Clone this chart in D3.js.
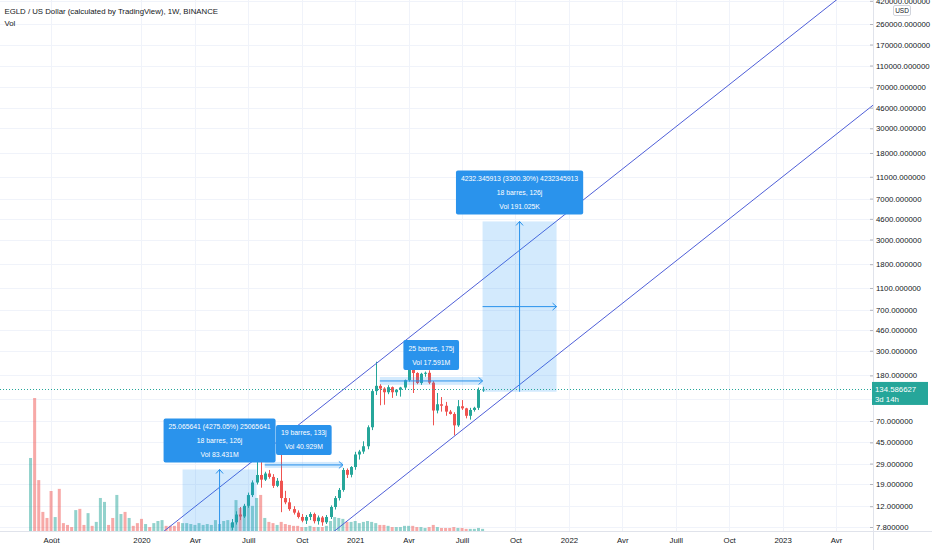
<!DOCTYPE html>
<html lang="fr">
<head>
<meta charset="UTF-8">
<title>EGLD / US Dollar, 1W</title>
<script src="https://d3js.org/d3.v7.min.js"></script>
<style>
  body { margin: 0; background: #fff; }
  svg { display: block; font-family: "Liberation Sans", Arial, sans-serif; }
</style>
</head>
<body>
<div id="chart"></div>
<script>
// weekly bars, the first one opens on this Monday
const firstBar = "2019-07-01";

// volume per weekly bar (millions)
const volumes = [
  24.1, 43.9, 16.8, 6.3, 4.3, 13.2, 4.6, 13.9, 2.6, 2.0,
  1.3, 6.9, 7.3, 2.0, 5.9, 1.7, 3.0, 10.9, 9.6, 2.0,
  4.3, 11.9, 5.6, 6.3, 4.3, 1.7, 2.6, 4.0, 2.3, 1.3,
  2.6, 3.3, 3.6, 1.7, 1.7, 1.7, 3.0, 2.6, 2.6, 2.3,
  2.0, 2.6, 2.0, 2.3, 2.0, 3.6, 2.3, 3.3, 3.6, 2.6,
  10.2, 7.6, 7.9, 11.9, 8.3, 10.9, 11.9, 4.3, 3.0, 2.6,
  2.0, 3.0, 2.3, 2.0, 1.7, 1.7, 1.3, 1.3, 1.7, 1.3,
  1.3, 1.3, 1.7, 3.3, 4.6, 4.3, 4.0, 3.0, 3.0, 3.3,
  2.6, 3.0, 3.3, 3.0, 2.6, 2.0, 2.0, 1.7, 1.3, 1.3,
  1.3, 1.7, 1.7, 1.7, 1.3, 1.3, 1.0, 1.3, 2.0, 1.3,
  1.0, 1.0, 1.0, 1.3, 1.0, 1.0, 0.7, 0.7, 0.7, 1.0,
  0.7
];
// 1 = week closed up, 0 = closed down
const volumeUp = [
  1, 0, 0, 0, 0, 0, 1, 0, 0, 0,
  0, 1, 0, 0, 1, 0, 1, 1, 1, 0,
  0, 1, 1, 0, 1, 0, 0, 0, 1, 0,
  1, 1, 1, 0, 0, 0, 0, 1, 1, 1,
  1, 1, 1, 1, 1, 1, 1, 1, 1, 1,
  1, 0, 1, 1, 1, 1, 0, 1, 0, 0,
  1, 0, 0, 0, 0, 0, 0, 1, 1, 0,
  1, 0, 1, 1, 1, 1, 1, 0, 1, 1,
  1, 1, 1, 1, 1, 0, 0, 1, 0, 1,
  1, 1, 1, 0, 0, 1, 1, 0, 0, 1,
  0, 0, 0, 0, 1, 0, 0, 1, 1, 1,
  1
];

// candles inside the visible price range start at this bar
const candleFrom = 49;
const candleOpen = [
  7.7, 8.6, 10.1, 9.7, 12.1, 15.1, 19.6, 22.9, 20.8, 23.6,
  22.0, 18.3, 20.3, 14.2, 13.0, 11.3, 10.5, 9.6, 8.9, 9.6,
  10.2, 8.8, 9.5, 8.6, 9.6, 11.8, 14.2, 16.8, 25.4, 23.0,
  27.0, 35.0, 37.2, 41.5, 61.5, 130, 145, 137, 127, 141,
  127, 134, 140, 163, 216, 189, 154, 186, 190, 155,
  87, 99, 96, 85, 81, 64, 95, 91, 78, 88,
  92, 133
];
const candleHigh = [
  9.2, 10.8, 11.8, 12.6, 15.9, 20.5, 31.2, 36.3, 24.5, 25.4,
  23.3, 21.5, 44.5, 16.5, 14.2, 12.0, 11.0, 10.2, 10.0, 10.6,
  10.5, 9.9, 9.8, 10.0, 12.2, 14.8, 17.5, 26.5, 26.2, 27.5,
  37.0, 38.5, 46, 64, 135, 239, 150, 141, 147, 143,
  135, 142, 165, 255, 235, 192, 190, 195, 200, 160,
  125, 115, 104, 88, 84, 108, 108, 92, 92, 94,
  140, 142
];
const candleLow = [
  7.3, 8.2, 9.0, 9.4, 11.6, 14.5, 18.8, 17.6, 20.2, 21.2,
  17.5, 17.8, 10.6, 12.5, 10.9, 10.1, 9.3, 8.6, 8.3, 9.0,
  8.4, 8.2, 8.0, 8.3, 9.2, 11.2, 13.5, 16.2, 21.5, 21.8,
  25.5, 31.5, 35.5, 39, 58, 120, 97, 98, 122, 113,
  118, 116, 135, 158, 125, 150, 148, 175, 150, 64,
  82, 85, 78, 80, 52, 62, 88, 74, 72, 85,
  88, 128
];
const candleClose = [
  8.6, 10.1, 9.7, 12.1, 15.1, 19.6, 22.9, 20.8, 23.6, 22.0,
  18.3, 20.3, 14.2, 13.0, 11.3, 10.5, 9.6, 8.9, 9.6, 10.2,
  8.8, 9.5, 8.6, 9.6, 11.8, 14.2, 16.8, 25.4, 23.0, 27.0,
  35.0, 37.2, 41.5, 61.5, 130, 145, 137, 127, 141, 127,
  134, 140, 163, 216, 189, 154, 186, 190, 155, 87,
  99, 96, 85, 81, 64, 95, 91, 78, 88, 92,
  133, 134.586627
];

// price scale labels (right side)
const priceTicks = [420000, 260000, 170000, 110000, 70000, 46000, 30000, 18000, 11000,
  7000, 4600, 3000, 1800, 1100, 700, 460, 300, 180, 110, 70, 45, 29, 19, 12, 7.8];

// time scale labels, placed on the first weekly bar of the month
const timeTickDates = ["2019-08-05", "2020-01-06", "2020-04-06", "2020-07-06", "2020-10-05",
  "2021-01-04", "2021-04-05", "2021-07-05", "2021-10-04", "2022-01-03", "2022-04-04",
  "2022-07-04", "2022-10-03", "2023-01-02", "2023-04-03"];
const timeTickLabels = ["Août", "2020", "Avr", "Juill", "Oct", "2021", "Avr", "Juill", "Oct",
  "2022", "Avr", "Juill", "Oct", "2023", "Avr"];

const lastPrice = 134.586627;
const lastCountdown = "3d 14h";

// parallel trend channel, two (date, price) anchors per line
const channelUpper = [["2020-02-14", 7.2], ["2022-02-25", 8950]];
const channelLower = [["2020-11-30", 7.2], ["2023-06-02", 47000]];

// measuring tools: first bar, bar count, price span, label lines
const rangeStart = [37, 57, 85, 110];
const rangeBars = [18, 19, 25, 18];
const rangeLow = [0.58632, 26.5, 148, 128.24];
const rangeHigh = [25.65196, 30.0, 174, 4360.59];
const rangeHasPrice = [true, false, false, true];
const rangeText = [
  ["25.065641 (4275.05%) 25065641", "18 barres, 126j", "Vol 83.431M"],
  ["19 barres, 133j", "Vol 40.929M"],
  ["25 barres, 175j", "Vol 17.591M"],
  ["4232.345913 (3300.30%) 4232345913", "18 barres, 126j", "Vol 191.025K"]
];

const W = 932, H = 550, plotW = 873, plotH = 531;
const upColor = "#26a69a", downColor = "#ef5350";
const toolBlue = "#2a93ec";

const parse = d3.utcParse("%Y-%m-%d");
const barDate = j => d3.utcDay.offset(parse(firstBar), 7 * j);

const svg = d3.select("#chart").append("svg")
    .attr("width", W)
    .attr("height", H);

svg.append("defs").append("clipPath").attr("id", "plot")
    .append("rect").attr("width", plotW).attr("height", plotH);

// scales
const x = d3.scaleUtc()
    .domain([parse("2019-05-10"), parse("2023-06-05")])
    .range([0, plotW]);
const y = d3.scaleLog()
    .domain([7.8, 260000])
    .range([527, 24]);
const vol = d3.scaleLinear()
    .domain([0, d3.max(volumes)])
    .range([plotH, 398]);

const yLast = y(lastPrice);
// the last price badge hides the scale labels it sits on
const labelTicks = priceTicks.filter(d => Math.abs(y(d) - yLast - 4) > 13);

// grid
const grid = svg.append("g").attr("stroke", "#f0f3fa").attr("stroke-width", 1);
grid.selectAll(".gh").data(priceTicks).join("line")
    .attr("x1", 0).attr("x2", plotW)
    .attr("y1", d => Math.round(y(d)) + 0.5)
    .attr("y2", d => Math.round(y(d)) + 0.5);
grid.selectAll(".gv").data(timeTickDates).join("line")
    .attr("y1", 0).attr("y2", plotH)
    .attr("x1", d => Math.round(x(parse(d))) + 0.5)
    .attr("x2", d => Math.round(x(parse(d))) + 0.5);

// volume
svg.append("g").attr("clip-path", "url(#plot)")
    .selectAll("rect").data(volumes).join("rect")
    .attr("x", (d, j) => x(barDate(j)) - 1.5)
    .attr("width", 3)
    .attr("y", d => vol(d))
    .attr("height", d => plotH - vol(d))
    .attr("fill", (d, j) => volumeUp[j] ? "rgba(38,166,154,0.5)" : "rgba(239,83,80,0.5)");

// candles
const candles = candleOpen.map((o, k) => ({
  date: barDate(candleFrom + k),
  open: o, high: candleHigh[k], low: candleLow[k], close: candleClose[k]
}));
const cg = svg.append("g").attr("clip-path", "url(#plot)");
cg.selectAll(".wick").data(candles).join("line")
    .attr("x1", d => Math.round(x(d.date)) + 0.5)
    .attr("x2", d => Math.round(x(d.date)) + 0.5)
    .attr("y1", d => y(d.high))
    .attr("y2", d => y(d.low))
    .attr("stroke", d => d.close >= d.open ? upColor : downColor);
cg.selectAll(".body").data(candles).join("rect")
    .attr("x", d => Math.round(x(d.date)) - 1)
    .attr("width", 3)
    .attr("y", d => y(Math.max(d.open, d.close)))
    .attr("height", d => Math.max(1, Math.abs(y(d.open) - y(d.close))))
    .attr("fill", d => d.close >= d.open ? upColor : downColor);

// trend channel
function extendLine(pts) {
  const [a, b] = pts.map(([d, p]) => [x(parse(d)), y(p)]);
  const k = (b[1] - a[1]) / (b[0] - a[0]);
  return [[-50, a[1] + k * (-50 - a[0])], [plotW + 50, a[1] + k * (plotW + 50 - a[0])]];
}
svg.append("g").attr("clip-path", "url(#plot)")
    .selectAll("path").data([channelUpper, channelLower]).join("path")
    .attr("d", d => d3.line()(extendLine(d)))
    .attr("fill", "none")
    .attr("stroke", "#4f5fd8")
    .attr("stroke-width", 1);

// measuring tools
const tools = svg.append("g");
rangeStart.forEach((s, i) => {
  const x0 = x(barDate(s)), x1 = x(barDate(s + rangeBars[i]));
  const yTop = y(rangeHigh[i]), yBot = y(rangeLow[i]);
  const xc = (x0 + x1) / 2, yc = (yTop + yBot) / 2;

  const shade = tools.append("g").attr("clip-path", "url(#plot)");
  shade.append("rect")
      .attr("x", x0).attr("y", yTop)
      .attr("width", x1 - x0).attr("height", yBot - yTop)
      .attr("fill", "rgba(33,150,243,0.2)");
  shade.append("line")
      .attr("x1", x0).attr("x2", x1).attr("y1", yc).attr("y2", yc)
      .attr("stroke", toolBlue);
  shade.append("path")
      .attr("d", `M${x1 - 4},${yc - 3.5}L${x1},${yc}L${x1 - 4},${yc + 3.5}`)
      .attr("fill", "none").attr("stroke", toolBlue);
  if (rangeHasPrice[i]) {
    shade.append("line")
        .attr("x1", xc).attr("x2", xc).attr("y1", yBot).attr("y2", yTop)
        .attr("stroke", toolBlue);
    shade.append("path")
        .attr("d", `M${xc - 3.5},${yTop + 4}L${xc},${yTop}L${xc + 3.5},${yTop + 4}`)
        .attr("fill", "none").attr("stroke", toolBlue);
  }

  const lab = tools.append("g");
  const texts = lab.selectAll("text").data(rangeText[i]).join("text")
      .attr("text-anchor", "middle")
      .attr("font-size", 6.85)
      .attr("fill", "#fff")
      .text(d => d);
  const w = d3.max(texts.nodes(), n => n.getComputedTextLength()) + 10;
  const h = rangeText[i].length * 14 + 2;
  const top = yTop - 7 - h;
  lab.insert("rect", "text")
      .attr("x", xc - w / 2).attr("y", top)
      .attr("width", w).attr("height", h)
      .attr("rx", 2)
      .attr("fill", toolBlue);
  texts.attr("x", xc).attr("y", (d, k) => top + 10.5 + 14 * k);
});

// last price line
svg.append("line")
    .attr("x1", 0).attr("x2", plotW)
    .attr("y1", Math.round(yLast) + 0.5).attr("y2", Math.round(yLast) + 0.5)
    .attr("stroke", upColor)
    .attr("stroke-dasharray", "1,2");

// axis borders
svg.append("line")
    .attr("x1", 0).attr("x2", W).attr("y1", plotH + 0.5).attr("y2", plotH + 0.5)
    .attr("stroke", "#e0e3eb");
svg.append("line")
    .attr("x1", plotW + 0.5).attr("x2", plotW + 0.5).attr("y1", 0).attr("y2", H)
    .attr("stroke", "#e0e3eb");

// price axis
const yAxis = svg.append("g")
    .attr("transform", `translate(${plotW},0)`)
    .call(d3.axisRight(y).tickValues(labelTicks).tickFormat(d3.format(".6f")).tickSize(0).tickPadding(3));
yAxis.select(".domain").remove();
yAxis.selectAll("text")
    .attr("font-size", 7.8)
    .attr("font-family", "Liberation Sans, Arial, sans-serif")
    .attr("fill", "#131722");
const yTicks = svg.append("g")
    .attr("transform", `translate(${plotW},0)`)
    .call(d3.axisLeft(y).tickValues(labelTicks).tickFormat("").tickSize(3));
yTicks.select(".domain").remove();
yTicks.selectAll("line").attr("stroke", "#b2b5be");

// time axis
const xAxis = svg.append("g")
    .attr("transform", `translate(0,${plotH})`)
    .call(d3.axisBottom(x)
      .tickValues(timeTickDates.map(parse))
      .tickFormat((d, i) => timeTickLabels[i])
      .tickSize(0)
      .tickPadding(6.5));
xAxis.select(".domain").remove();
xAxis.selectAll("text")
    .attr("font-size", 7.8)
    .attr("font-family", "Liberation Sans, Arial, sans-serif")
    .attr("fill", "#131722");

// last price badge
svg.append("rect")
    .attr("x", plotW - 1).attr("y", yLast - 7.5)
    .attr("width", 56).attr("height", 23)
    .attr("fill", upColor);
svg.append("text")
    .attr("x", plotW + 2).attr("y", yLast + 2.8)
    .attr("font-size", 7.8).attr("fill", "#fff")
    .text(d3.format(".6f")(lastPrice));
svg.append("text")
    .attr("x", plotW + 2).attr("y", yLast + 12.8)
    .attr("font-size", 7.8).attr("fill", "#fff")
    .text(lastCountdown);

// currency tag
svg.append("rect")
    .attr("x", 893.5).attr("y", 5.5).attr("width", 17).attr("height", 10).attr("rx", 1.5)
    .attr("fill", "#fff").attr("stroke", "#d1d4dc");
svg.append("text")
    .attr("x", 902).attr("y", 13.2).attr("text-anchor", "middle")
    .attr("font-size", 6.5).attr("fill", "#131722")
    .text("USD");

// legend
svg.append("text")
    .attr("x", 4.5).attr("y", 13.5)
    .attr("font-size", 7.8).attr("fill", "#131722")
    .text("EGLD / US Dollar (calculated by TradingView), 1W, BINANCE");
svg.append("text")
    .attr("x", 4.5).attr("y", 25.5)
    .attr("font-size", 7.8).attr("fill", "#131722")
    .text("Vol");
</script>
</body>
</html>
